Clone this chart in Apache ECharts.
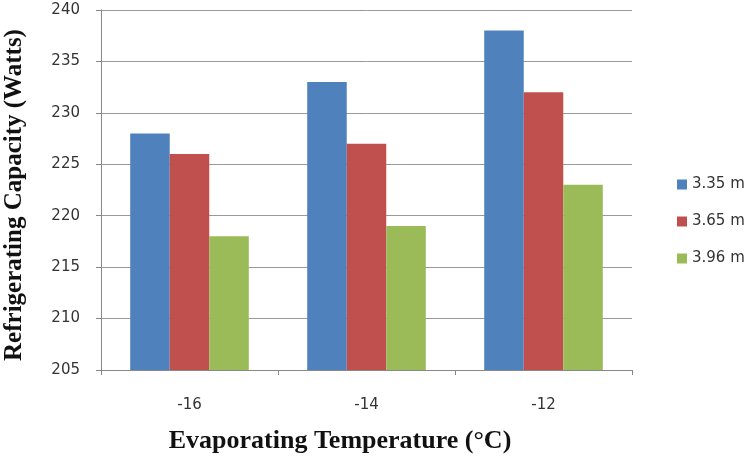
<!DOCTYPE html>
<html><head><meta charset="utf-8">
<script src="https://cdn.jsdelivr.net/npm/echarts@6/dist/echarts.min.js"></script>
<style>html,body{margin:0;padding:0;background:#fff}#c{width:749px;height:462px}</style>
</head><body><div id="c"></div>
<script>
const categories = ['-16', '-14', '-12'];
const seriesNames = ['3.35 m', '3.65 m', '3.96 m'];
const s335 = [228, 233, 238];
const s365 = [226, 227, 232];
const s396 = [218, 219, 223];
const colors = ['#4F81BD', '#C0504D', '#9BBB59'];
const xTitle = 'Evaporating Temperature (°C)';
const yTitle = 'Refrigerating Capacity (Watts)';

const chart = echarts.init(document.getElementById('c'));
const sans = '"DejaVu Sans", "Open Sans", sans-serif';
const serif = '"Liberation Serif", "DejaVu Serif", serif';
const titleStyle = {fontFamily: serif, fontSize: 25, fontWeight: 'bold', fill: '#111'};
chart.setOption({
  animation: false,
  grid: {left: 101, right: 117, top: 10, bottom: 92, containLabel: false, outerBoundsMode: 'none'},
  legend: {
    orient: 'vertical', left: 672, top: 172, itemGap: 22,
    itemWidth: 10, itemHeight: 10, icon: 'rect',
    textStyle: {fontFamily: sans, fontSize: 15, color: '#333'},
    data: seriesNames
  },
  graphic: [
    {type: 'text', x: 340, y: 441,
     style: Object.assign({text: xTitle, align: 'center', verticalAlign: 'middle'}, titleStyle, {fontSize: 26})},
    {type: 'text', x: 15, y: 195, rotation: Math.PI / 2,
     style: Object.assign({text: yTitle, align: 'center', verticalAlign: 'middle'}, titleStyle)}
  ],
  xAxis: {
    type: 'category', data: categories,
    axisLine: {lineStyle: {color: '#888'}},
    axisTick: {show: true, length: 5, lineStyle: {color: '#888'}},
    axisLabel: {fontFamily: sans, fontSize: 15, color: '#333', margin: 28}
  },
  yAxis: {
    type: 'value', min: 205, max: 240, interval: 5,
    axisLine: {show: true, lineStyle: {color: '#888'}},
    axisTick: {show: true, length: 5, lineStyle: {color: '#888'}},
    axisLabel: {fontFamily: sans, fontSize: 15, color: '#333', margin: 21},
    splitLine: {lineStyle: {color: '#999', width: 1}}
  },
  series: [
    {name: seriesNames[0], type: 'bar', data: s335, itemStyle: {color: colors[0]}, barGap: '0%', barCategoryGap: '33%'},
    {name: seriesNames[1], type: 'bar', data: s365, itemStyle: {color: colors[1]}, barGap: '0%', barCategoryGap: '33%'},
    {name: seriesNames[2], type: 'bar', data: s396, itemStyle: {color: colors[2]}, barGap: '0%', barCategoryGap: '33%'}
  ]
});
</script></body></html>
